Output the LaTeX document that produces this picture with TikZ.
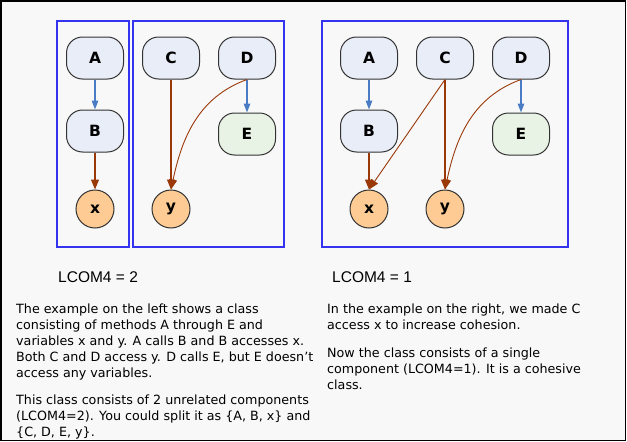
\documentclass[tikz,border=0pt]{standalone}
\usepackage{fontspec}
\setmainfont{DejaVu Sans}
\newfontfamily\headfont{Liberation Sans}
\usetikzlibrary{arrows.meta}
\definecolor{panelbg}{HTML}{F8F8F8}
\definecolor{methodfill}{HTML}{E8EDF7}
\definecolor{leaffill}{HTML}{E8F3E6}
\definecolor{varfill}{HTML}{FDCB93}
\definecolor{callblue}{HTML}{4A7CC6}
\definecolor{usebrown}{HTML}{9A3808}
\definecolor{groupblue}{HTML}{3434F0}

\begin{document}
\begin{tikzpicture}[x=1pt,y=-1pt,
  method/.style={draw=black!80, fill=methodfill, rounded corners=16pt,
    minimum width=57pt, minimum height=42pt, line width=1pt,
    font=\fontsize{15.5}{18}\selectfont\bfseries},
  var/.style={circle, draw=black!80, fill=varfill, minimum size=38pt,
    inner sep=0pt, line width=1pt, font=\fontsize{15.5}{18}\selectfont\bfseries},
  call/.style={-{Triangle[length=9pt,width=6.5pt]}, callblue, line width=1.3pt},
  use/.style={-{Triangle[length=10pt,width=8pt]}, usebrown, line width=1.1pt},
  group/.style={draw=groupblue, line width=1.05pt},
  heading/.style={anchor=base west, inner sep=0pt,
    font=\headfont\fontsize{15.5}{18}\selectfont},
  para/.style={anchor=north west, inner sep=0pt, align=left,
    font=\fontsize{12.7}{16}\selectfont}]
  \useasboundingbox (0,0) rectangle (627,442);
  \fill[white] (0,0) rectangle (627,442);
  \draw[fill=panelbg, line width=1.5pt] (0.75,0.75) rectangle (625.5,440.5);

  \draw[group] (57,21) rectangle (129,247);
  \draw[group] (133,21) rectangle (284,247);
  \draw[group] (322,21) rectangle (568,247);

  \foreach \s/\ox in {l/0, r/274} {
    \node[method] (\s A) at (95+\ox,58) {A};
    \node[method] (\s B) at (95+\ox,131) {B};
    \node[method] (\s C) at (171+\ox,58) {C};
    \node[method] (\s D) at (247+\ox,58) {D};
    \node[method, fill=leaffill] (\s E) at (247+\ox,134) {E};
    \node[var] (\s x) at (95+\ox,209) {x};
    \node[var] (\s y) at (171+\ox,209) {y};
    \draw[call] (\s A) -- (\s B);
    \draw[call] (\s D) -- (\s E);
    \draw[use] (\s B) -- (\s x);
    \draw[use] (\s C) -- (\s y);
    \draw[use, line width=0.9pt] (\s D.south) to[out=200,in=78] (\s y.north);
  }
  \draw[use, line width=0.9pt] (rC.south) -- (rx.north);

  \node[heading] (lhead) at (58,282) {LCOM4 = 2};
  \node[heading] (rhead) at (332,282) {LCOM4 = 1};

  \node[para] (ltext) at (16,304) {The example on the left shows a class\\
    consisting of methods A through E and\\
    variables x and y. A calls B and B accesses x.\\
    Both C and D access y. D calls E, but E doesn't\\
    access any variables.};
  \node[para] (lmore) at (16,395) {This class consists of 2 unrelated components\\
    (LCOM4=2). You could split it as \{A, B, x\} and\\
    \{C, D, E, y\}.};
  \node[para] (rtext) at (327,304) {In the example on the right, we made C\\
    access x to increase cohesion.};
  \node[para] (rmore) at (327,348) {Now the class consists of a single\\
    component (LCOM4=1). It is a cohesive\\
    class.};
\end{tikzpicture}
\end{document}
